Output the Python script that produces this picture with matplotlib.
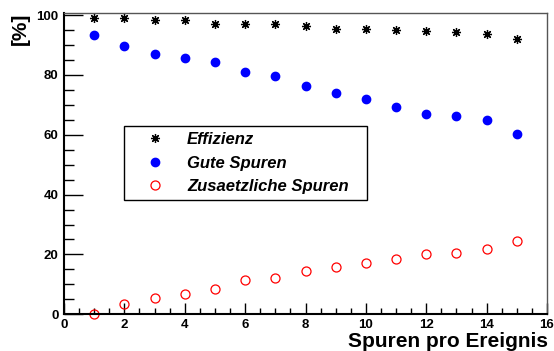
import numpy as np
import matplotlib.pyplot as plt
from matplotlib.ticker import MultipleLocator

plt.rcParams['font.family'] = ['Liberation Sans', 'DejaVu Sans']
plt.rcParams['font.weight'] = 'bold'

# Data
spuren = [1, 2, 3, 4, 5, 6, 7, 8, 9, 10, 11, 12, 13, 14, 15]
effizienz = [99.0, 99.0, 98.4, 98.4, 97.1, 97.1, 97.1, 96.4, 95.4, 95.4, 95.1, 94.8, 94.3, 93.7, 92.1]
gute_spuren = [93.4, 89.8, 87.1, 85.5, 84.4, 80.9, 79.7, 76.4, 73.9, 72.1, 69.4, 67.0, 66.3, 64.9, 60.4]
zusaetzliche = [0.0, 3.3, 5.6, 6.9, 8.6, 11.5, 12.0, 14.6, 15.7, 17.0, 18.4, 20.1, 20.6, 21.7, 24.5]

fig = plt.figure(figsize=(5.54, 3.51), dpi=100)
ax = fig.add_axes([64 / 554, 1 - 314.3 / 351, 483 / 554, 301 / 351])

ax.plot(spuren, effizienz, linestyle='none', marker=(8, 2, 0), markersize=6.5,
        markeredgewidth=0.9, color='black', label='Effizienz', clip_on=False)
ax.plot(spuren, gute_spuren, linestyle='none', marker='o', markersize=6,
        color='#0000ff', label='Gute Spuren', clip_on=False)
ax.plot(spuren, zusaetzliche, linestyle='none', marker='o', markersize=6.5,
        markerfacecolor='none', markeredgecolor='#ff0000', markeredgewidth=0.9,
        label='Zusaetzliche Spuren', clip_on=False)

ax.set_xlim(0, 16)
ax.set_ylim(0, 100.6)

# ROOT-like axes: ticks inside, only on left and bottom
ax.xaxis.set_major_locator(MultipleLocator(2))
ax.xaxis.set_minor_locator(MultipleLocator(0.5))
ax.yaxis.set_major_locator(MultipleLocator(20))
ax.yaxis.set_minor_locator(MultipleLocator(5))
ax.tick_params(axis='y', which='major', direction='in', length=14, width=1, pad=4, labelsize=9.5)
ax.tick_params(axis='y', which='minor', direction='in', length=7, width=1)
ax.tick_params(axis='x', which='major', direction='in', length=8, width=1, pad=3.5, labelsize=9.5)
ax.tick_params(axis='x', which='minor', direction='in', length=4, width=1)

ax.spines['left'].set_linewidth(1.5)
ax.spines['bottom'].set_linewidth(1.5)
ax.spines['top'].set_color('#555555')
ax.spines['right'].set_color('#555555')
ax.spines['top'].set_linewidth(1)
ax.spines['right'].set_linewidth(1)

leg = ax.legend(loc='upper left', bbox_to_anchor=(0.124, 0.376, 0.503, 0.25),
                mode='expand', frameon=True, fancybox=False, framealpha=1,
                borderpad=0.38, labelspacing=0.5, handlelength=3.0, handletextpad=0.4,
                borderaxespad=0, prop={'weight': 'bold', 'style': 'italic', 'size': 12})
leg.get_frame().set_edgecolor('black')
leg.get_frame().set_linewidth(1)

fig.text(548 / 554, 0.011, 'Spuren pro Ereignis', ha='right', va='baseline',
         fontsize=15, fontweight='bold')
fig.text(20 / 554, 1 - 13 / 351, '[%]', rotation=90, ha='center', va='top',
         fontsize=15, fontweight='bold')

fig.savefig('out.png', dpi=100)
